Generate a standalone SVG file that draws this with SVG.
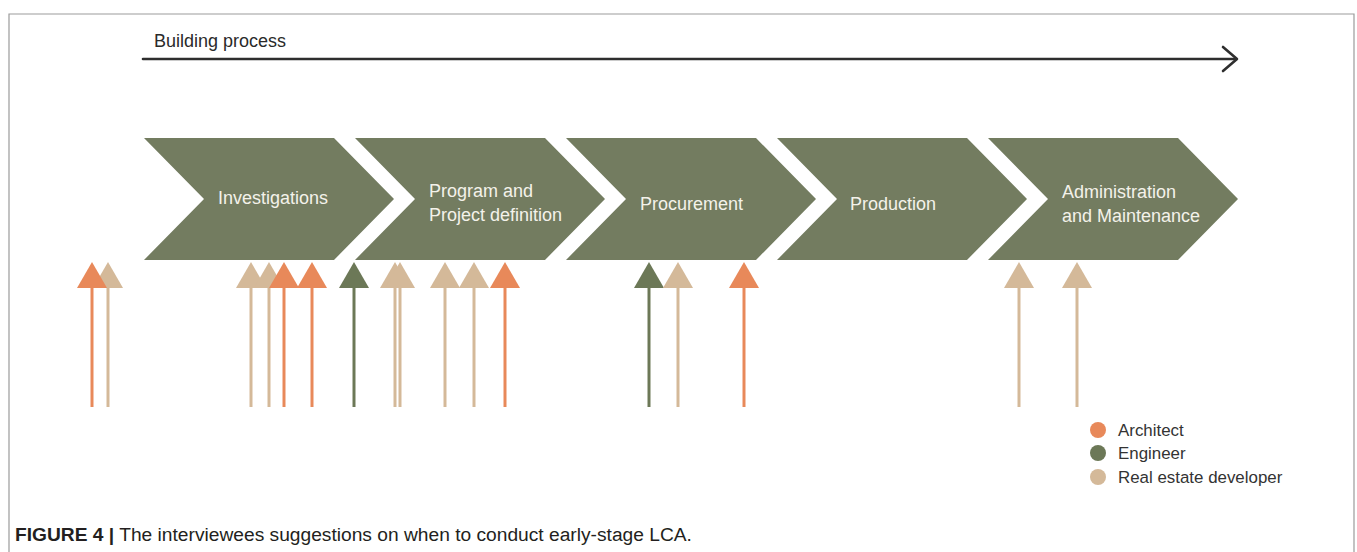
<svg xmlns="http://www.w3.org/2000/svg" xmlns:xlink="http://www.w3.org/1999/xlink" width="1357" height="552" viewBox="0 0 1357 552">
<style>
.frame{fill:none;stroke:#9b9b9b;stroke-width:1.2}
.chev{fill:#737c60}
.ctext{font-family:"Liberation Sans",Arial,sans-serif;font-size:18px;fill:#f3f2ea}
.title{font-family:"Liberation Sans",Arial,sans-serif;font-size:18px;fill:#2a2a2a}
.proc{stroke:#2e2e2e;stroke-width:2.6;fill:none;stroke-linecap:round;stroke-linejoin:round}
.la{stroke:#e8895a;stroke-width:3}
.le{stroke:#6c7857;stroke-width:3}
.lr{stroke:#d4b999;stroke-width:3}
.fa{fill:#e8895a}
.fe{fill:#6c7857}
.fr{fill:#d4b999}
.leg{font-family:"Liberation Sans",Arial,sans-serif;font-size:16.9px;fill:#333333}
.cap{font-family:"Liberation Sans",Arial,sans-serif;font-size:19.2px;fill:#231f20}
</style>
<defs>
<path id="tri" d="M0,-26 L15,0 L-15,0 Z"/>
</defs>
<rect width="1357" height="552" fill="#ffffff"/>
<path class="frame" d="M9,552 V14 H1354 V552"/>

<g id="building-process">
<text class="title" x="154" y="47">Building process</text>
<line class="proc" x1="143" y1="59" x2="1236" y2="59"/>
<polyline class="proc" points="1223,47 1237,59 1223,71"/>
</g>

<g id="investigations">
<polygon class="chev" points="144,138 334,138 394,199 334,260 144,260 204,199"/>
<text class="ctext" x="273" y="204" text-anchor="middle">Investigations</text>
</g>
<g id="program">
<polygon class="chev" points="355,138 545,138 605,199 545,260 355,260 415,199"/>
<text class="ctext" x="429" y="197">Program and</text>
<text class="ctext" x="429" y="221">Project definition</text>
</g>
<g id="procurement">
<polygon class="chev" points="566,138 756,138 816,199 756,260 566,260 626,199"/>
<text class="ctext" x="640" y="210">Procurement</text>
</g>
<g id="production">
<polygon class="chev" points="777,138 967,138 1027,199 967,260 777,260 837,199"/>
<text class="ctext" x="850" y="210">Production</text>
</g>
<g id="administration">
<polygon class="chev" points="988,138 1178,138 1238,199 1178,260 988,260 1048,199"/>
<text class="ctext" x="1062" y="198">Administration</text>
<text class="ctext" x="1062" y="222">and Maintenance</text>
</g>

<g id="connectors">
<line class="lr" x1="108" y1="285" x2="108" y2="407"/><use xlink:href="#tri" href="#tri" class="fr" x="108" y="288"/>
<line class="la" x1="92" y1="285" x2="92" y2="407"/><use xlink:href="#tri" href="#tri" class="fa" x="92" y="288"/>
<line class="lr" x1="251" y1="285" x2="251" y2="407"/><use xlink:href="#tri" href="#tri" class="fr" x="251" y="288"/>
<line class="lr" x1="269" y1="285" x2="269" y2="407"/><use xlink:href="#tri" href="#tri" class="fr" x="269" y="288"/>
<line class="la" x1="284" y1="285" x2="284" y2="407"/><use xlink:href="#tri" href="#tri" class="fa" x="284" y="288"/>
<line class="la" x1="312" y1="285" x2="312" y2="407"/><use xlink:href="#tri" href="#tri" class="fa" x="312" y="288"/>
<line class="le" x1="354" y1="285" x2="354" y2="407"/><use xlink:href="#tri" href="#tri" class="fe" x="354" y="288"/>
<line class="lr" x1="395" y1="285" x2="395" y2="407"/><use xlink:href="#tri" href="#tri" class="fr" x="395" y="288"/>
<line class="lr" x1="400" y1="285" x2="400" y2="407"/><use xlink:href="#tri" href="#tri" class="fr" x="400" y="288"/>
<line class="lr" x1="445" y1="285" x2="445" y2="407"/><use xlink:href="#tri" href="#tri" class="fr" x="445" y="288"/>
<line class="lr" x1="474" y1="285" x2="474" y2="407"/><use xlink:href="#tri" href="#tri" class="fr" x="474" y="288"/>
<line class="la" x1="505" y1="285" x2="505" y2="407"/><use xlink:href="#tri" href="#tri" class="fa" x="505" y="288"/>
<line class="le" x1="649" y1="285" x2="649" y2="407"/><use xlink:href="#tri" href="#tri" class="fe" x="649" y="288"/>
<line class="lr" x1="678" y1="285" x2="678" y2="407"/><use xlink:href="#tri" href="#tri" class="fr" x="678" y="288"/>
<line class="la" x1="744" y1="285" x2="744" y2="407"/><use xlink:href="#tri" href="#tri" class="fa" x="744" y="288"/>
<line class="lr" x1="1019" y1="285" x2="1019" y2="407"/><use xlink:href="#tri" href="#tri" class="fr" x="1019" y="288"/>
<line class="lr" x1="1077" y1="285" x2="1077" y2="407"/><use xlink:href="#tri" href="#tri" class="fr" x="1077" y="288"/>
</g>

<g id="legend">
<circle class="fa" cx="1098" cy="430" r="8"/>
<text class="leg" x="1118" y="436">Architect</text>
<circle class="fe" cx="1098" cy="453" r="8"/>
<text class="leg" x="1118" y="459">Engineer</text>
<circle class="fr" cx="1098" cy="477" r="8"/>
<text class="leg" x="1118" y="483">Real estate developer</text>
</g>

<g id="caption">
<text class="cap" x="15" y="541"><tspan font-weight="bold">FIGURE 4 |</tspan> The interviewees suggestions on when to conduct early-stage LCA.</text>
</g>
</svg>
